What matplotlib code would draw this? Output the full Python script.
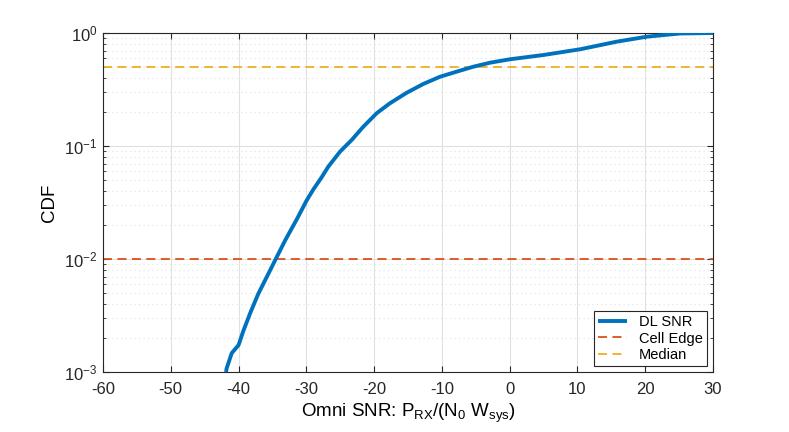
import numpy as np
import matplotlib as mpl
mpl.use('Agg')
mpl.rcParams['font.family'] = 'sans-serif'
mpl.rcParams['font.sans-serif'] = ['Liberation Sans', 'DejaVu Sans']
mpl.rcParams['mathtext.fontset'] = 'custom'
mpl.rcParams['mathtext.rm'] = 'Liberation Sans'
mpl.rcParams['mathtext.it'] = 'Liberation Sans:italic'
mpl.rcParams['axes.unicode_minus'] = False
mpl.rcParams['xtick.direction'] = 'in'
mpl.rcParams['ytick.direction'] = 'in'
import matplotlib.pyplot as plt
from matplotlib.ticker import LogLocator, NullFormatter

# DL SNR CDF
snr = [-41.85, -41.75, -41.0, -40.0, -39.3, -38.3, -37.1, -35.7, -34.4, -33.1,
       -31.4, -29.95, -28.97, -27.73, -26.76, -25.03, -23.31, -21.6, -19.62, -17.66,
       -15.19, -12.74, -10.28, -7.82, -5.37, -2.9, 0.0, 5.0, 10.4, 15.8,
       20.2, 25.1, 30.0]
cdf = [1.0e-3, 1.08e-3, 1.47e-3, 1.73e-3, 2.3e-3, 3.3e-3, 4.9e-3, 7.2e-3, 0.0103, 0.0147,
       0.0225, 0.0330, 0.0412, 0.053, 0.0656, 0.0891, 0.113, 0.148, 0.195, 0.239,
       0.296, 0.354, 0.410, 0.455, 0.503, 0.546, 0.585, 0.639, 0.718, 0.838,
       0.927, 0.99, 1.0]
cell_edge = 0.01
median = 0.5

c_blue = '#0072BD'
c_red = '#D95319'
c_yel = '#EDB120'

fig = plt.figure(figsize=(7.89, 4.32), dpi=100, facecolor='w')
ax = fig.add_axes([0.1305, 0.1389, 0.7732, 0.7847])

ax.semilogy(snr, cdf, color=c_blue, lw=2.8, label='DL SNR', zorder=3,
            solid_joinstyle='round', solid_capstyle='butt')
ax.axhline(cell_edge, color=c_red, lw=1.3, ls=(0, (5, 3)), label='Cell Edge')
ax.axhline(median, color=c_yel, lw=1.3, ls=(0, (5, 3)), label='Median')

ax.set_xlim(-60, 30)
ax.set_ylim(1e-3, 1)
ax.set_xticks(np.arange(-60, 31, 10))
ax.yaxis.set_minor_locator(LogLocator(base=10, subs=np.arange(2, 10)))
ax.yaxis.set_minor_formatter(NullFormatter())

ax.grid(True, which='major', color='#e0e0e0', lw=0.8, ls='-')
ax.grid(True, which='minor', color='#e0e0e0', lw=0.8, ls=(0, (1, 3)))
ax.set_axisbelow(True)
for s in ax.spines.values():
    s.set_color('#262626')
    s.set_linewidth(0.8)
ax.tick_params(which='both', top=True, right=True, colors='#262626', labelsize=12)
ax.tick_params(which='major', length=4)
ax.tick_params(which='minor', length=2)
ax.tick_params(axis='x', pad=7)
ax.tick_params(axis='y', pad=4)

ax.set_xlabel(r'Omni SNR: P$_{\mathrm{RX}}$/(N$_{\mathrm{0}}$ W$_{\mathrm{sys}}$)', fontsize=13.5)
ax.set_ylabel('CDF', fontsize=13.5)

leg = ax.legend(loc='lower right', fontsize=10.5, fancybox=False, framealpha=1,
                edgecolor='#262626', borderpad=0.3, handlelength=2.0,
                labelspacing=0.15, borderaxespad=0.4)
leg.get_frame().set_linewidth(0.8)

plt.savefig('out.png', dpi=100)
